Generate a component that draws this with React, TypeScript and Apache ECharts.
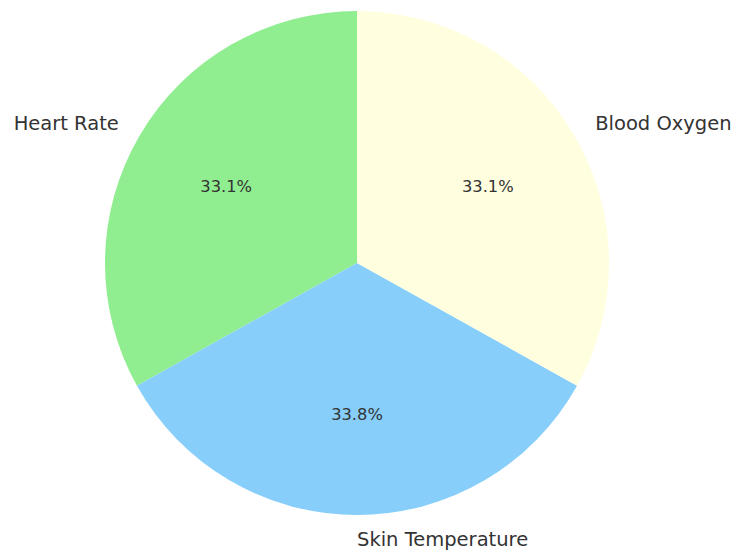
import React, { useEffect, useRef } from "react";
import * as echarts from "echarts";

const categories = ["Heart Rate", "Skin Temperature", "Blood Oxygen"];
const values = [33.1, 33.8, 33.1];
const colors = ["#90EE90", "#87CEFA", "#FFFFE0"];

const CX = 357;
const CY = 263;
const R = 252;

export default function App() {
  const ref = useRef<HTMLDivElement>(null);
  useEffect(() => {
    if (!ref.current) return;
    const chart = echarts.init(ref.current, undefined, { renderer: "svg" });
    const total = values.reduce((a, b) => a + b, 0);
    // matplotlib-like alignment: by sign of the cosine of the slice mid-angle
    const aligns: string[] = [];
    let acc = 0;
    values.forEach((v) => {
      const mid = 90 + ((acc + v / 2) / total) * 360;
      acc += v;
      const c = Math.cos((mid * Math.PI) / 180);
      aligns.push(c >= -1e-6 ? "left" : "right");
    });
    const data = categories.map((name, i) => ({
      name,
      value: values[i],
      itemStyle: { color: colors[i] },
    }));
    chart.setOption({
      animation: false,
      backgroundColor: "#ffffff",
      series: [
        {
          type: "pie",
          center: [CX, CY],
          radius: [0, R],
          startAngle: 90,
          clockwise: false,
          avoidLabelOverlap: false,
          silent: true,
          data,
          itemStyle: { borderWidth: 0 },
          label: {
            show: true,
            position: "outside",
            formatter: "{b}",
            fontFamily: "DejaVu Sans",
            fontSize: 19.5,
            color: "#333333",
            distanceToLabelLine: 0,
          },
          labelLine: { show: false, length: R * 0.1 - 1, length2: 0 },
          labelLayout: (p: any) => ({ align: aligns[p.dataIndex] }),
        },
        {
          type: "pie",
          center: [CX, CY],
          radius: [R * 0.4, R * 0.78],
          startAngle: 90,
          clockwise: false,
          avoidLabelOverlap: false,
          silent: true,
          data: categories.map((name, i) => ({
            name,
            value: values[i],
            itemStyle: { color: "rgba(0,0,0,0)" },
          })),
          label: {
            show: true,
            position: "inside",
            formatter: (p: any) => p.percent.toFixed(1) + "%",
            fontFamily: "DejaVu Sans",
            fontSize: 16.3,
            color: "#333333",
          },
          labelLine: { show: false },
        },
      ],
    });
    return () => chart.dispose();
  }, []);
  return (
    <div
      ref={ref}
      style={{ position: "fixed", left: 0, top: 0, width: 737, height: 553 }}
    />
  );
}
